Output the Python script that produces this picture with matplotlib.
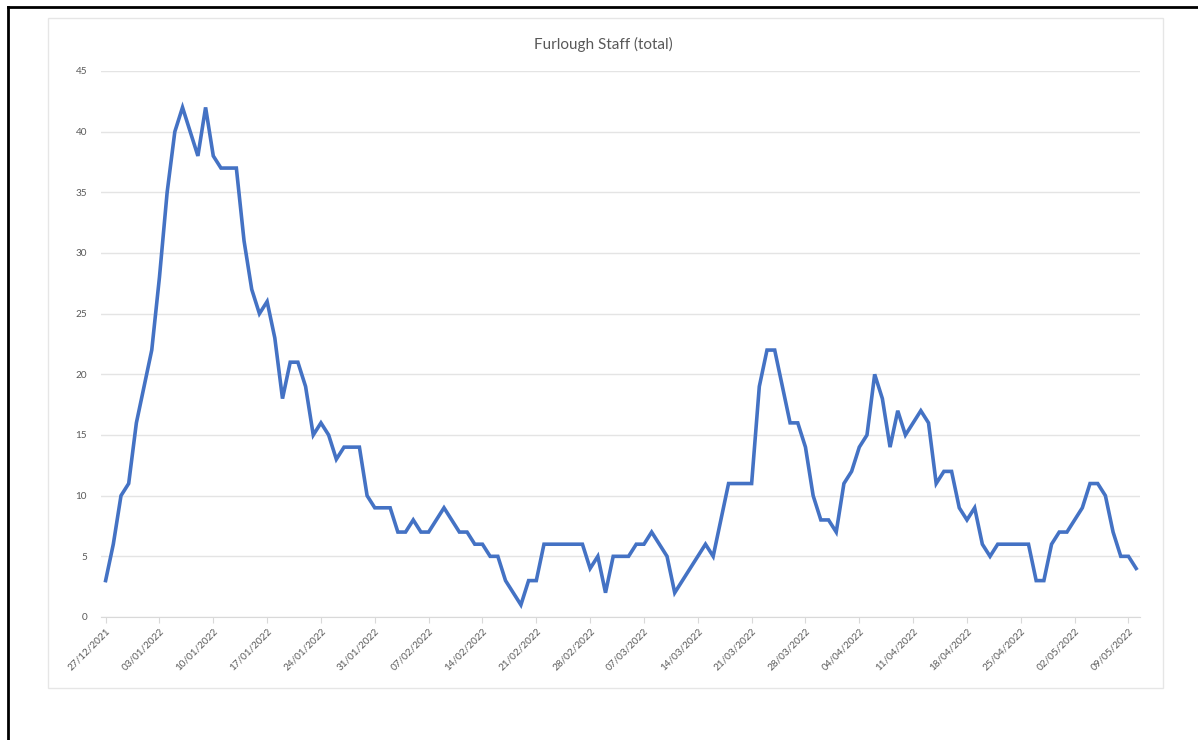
import numpy as np
import pandas as pd
import matplotlib
matplotlib.use("Agg")
import matplotlib.pyplot as plt
from matplotlib.lines import Line2D
from matplotlib.patches import Rectangle

# daily totals from 27/12/2021
start_date = "2021-12-27"
staff = [3, 6, 10, 11, 16, 19, 22, 28, 35, 40,
         42, 40, 38, 42, 38, 37, 37, 37, 31, 27,
         25, 26, 23, 18, 21, 21, 19, 15, 16, 15,
         13, 14, 14, 14, 10, 9, 9, 9, 7, 7,
         8, 7, 7, 8, 9, 8, 7, 7, 6, 6,
         5, 5, 3, 2, 1, 3, 3, 6, 6, 6,
         6, 6, 6, 4, 5, 2, 5, 5, 5, 6,
         6, 7, 6, 5, 2, 3, 4, 5, 6, 5,
         8, 11, 11, 11, 11, 19, 22, 22, 19, 16,
         16, 14, 10, 8, 8, 7, 11, 12, 14, 15,
         20, 18, 14, 17, 15, 16, 17, 16, 11, 12,
         12, 9, 8, 9, 6, 5, 6, 6, 6, 6,
         6, 3, 3, 6, 7, 7, 8, 9, 11, 11,
         10, 7, 5, 5, 4]

dates = pd.date_range(start_date, periods=len(staff), freq="D")
tick_step = 7

W, H = 1198, 740
fig = plt.figure(figsize=(W / 100, H / 100), dpi=100)
plt.rcParams['font.family'] = ['Lato', 'DejaVu Sans']

# outer black frame (top and left visible)
fig.add_artist(Line2D([7.5 / W, 1.0], [1 - 6.5 / H, 1 - 6.5 / H], color='black', lw=2))
fig.add_artist(Line2D([7.5 / W, 7.5 / W], [0, 1 - 6.5 / H], color='black', lw=2))

# chart area border
fig.add_artist(Rectangle((48 / W, 1 - 688 / H), (1163 - 48) / W, (688 - 18) / H,
                         fill=False, edgecolor='#e6e6e6', lw=1))

ax = fig.add_axes([101 / W, 1 - 617 / H, (1140 - 101) / W, (617 - 71) / H])

x = np.arange(len(staff))
ax.plot(x, staff, color='#4472C4', lw=2.6, solid_joinstyle='miter')

ax.set_ylim(0, 45)
ax.set_xlim(-0.6, 134.5)
ax.set_yticks(range(0, 46, 5))
ax.grid(axis='y', color='#e4e4e4', lw=1)
ax.set_axisbelow(True)

ticks = x[::tick_step]
ax.set_xticks(ticks)
ax.set_xticklabels([d.strftime('%d/%m/%Y') for d in dates[::tick_step]],
                   rotation=45, ha='right', rotation_mode='anchor')

for s in ['top', 'right', 'left']:
    ax.spines[s].set_visible(False)
ax.spines['bottom'].set_color('#d9d9d9')
ax.tick_params(axis='y', length=0, pad=10, labelsize=7.2, labelcolor='#595959')
ax.tick_params(axis='x', length=4, color='#d9d9d9', pad=3, labelsize=7.2, labelcolor='#595959')

fig.text(603 / W, 1 - 44 / H, 'Furlough Staff (total)', ha='center', va='center',
         fontsize=11, color='#595959')

fig.savefig('out.png', dpi=100)
